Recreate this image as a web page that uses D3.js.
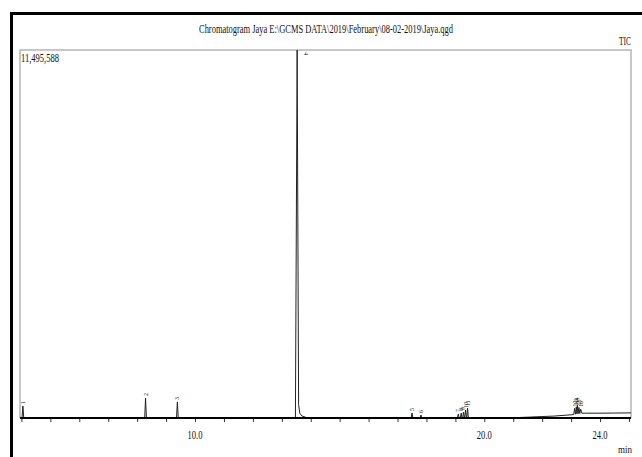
<!DOCTYPE html>
<html>
<head>
<meta charset="utf-8">
<script src="https://cdn.jsdelivr.net/npm/d3@7"></script>
<style>
  body { margin: 0; background: #fff; }
  svg text { font-family: "Liberation Serif", "DejaVu Serif", serif; fill: #111; }
</style>
</head>
<body>
<svg width="642" height="457"></svg>
<script>
// chromatogram trace (retention time in min, intensity)
const traceT = [3.95, 4.02, 4.05, 4.08, 8.26, 8.29, 8.32, 9.36, 9.39, 9.42,
  13.47, 13.53, 13.58, 13.62, 13.70, 13.85, 14.0,
  17.47, 17.50, 17.53, 17.78, 17.81, 17.84,
  19.07, 19.10, 19.13, 19.17, 19.20, 19.23, 19.25, 19.28, 19.31, 19.32, 19.35, 19.38, 19.39, 19.42, 19.45,
  20.8, 21.6, 22.4, 23.0,
  23.09, 23.12, 23.15, 23.18, 23.20, 23.22, 23.24, 23.27, 23.30, 23.33, 23.37,
  23.5, 24.0, 24.5, 25.07];
const traceI = [0, 0, 375000, 0, 0, 625000, 0, 0, 500000, 0,
  0, 11495588, 420000, 150000, 60000, 15000, 0,
  0, 156000, 0, 0, 94000, 0,
  0, 125000, 0, 0, 156000, 0, 0, 187000, 0, 0, 250000, 0, 0, 312000, 0,
  0, 30000, 60000, 100000,
  110000, 300000, 120000, 350000, 130000, 400000, 130000, 330000, 140000, 280000, 150000,
  150000, 150000, 155000, 160000];

// peak numbers
const peakT = [4.05, 8.29, 9.39, 13.53, 17.50, 17.81, 19.10, 19.20, 19.28, 19.35, 19.42,
  23.12, 23.18, 23.22, 23.27, 23.33];
const peakI = [375000, 625000, 500000, 11495588, 156000, 94000, 125000, 156000, 187000, 250000, 312000,
  300000, 350000, 400000, 330000, 280000];
const peakLabels = ["1", "2", "3", "4", "5", "6", "7", "8", "9", "10", "11",
  "12", "13", "14", "15", "16"];

// axis
const tickLabels = [10, 20, 24];
const minorTicks = d3.range(4, 26, 1);
const maxIntensity = 11495588;

const svg = d3.select("svg");

// page frame (left + top black rules)
svg.append("line").attr("x1", 11.5).attr("x2", 11.5).attr("y1", 12).attr("y2", 457)
  .attr("stroke", "#000").attr("stroke-width", 3);
svg.append("line").attr("x1", 10).attr("x2", 642).attr("y1", 13.5).attr("y2", 13.5)
  .attr("stroke", "#000").attr("stroke-width", 3);

const pLeft = 20, pRight = 631, pTop = 50, pBottom = 418;

const x = d3.scaleLinear().domain([3.95, 25.07]).range([pLeft, pRight]);
const y = d3.scaleLinear().domain([0, maxIntensity]).range([pBottom, pTop]);

// plot box (grey)
svg.append("path")
  .attr("d", `M${pLeft},${pBottom}V${pTop}H${pRight}V${pBottom}`)
  .attr("fill", "none").attr("stroke", "#b5b5b5").attr("stroke-width", 1.5);

// title
svg.append("text").attr("x", 326).attr("y", 33)
  .attr("text-anchor", "middle").attr("font-size", 12)
  .attr("textLength", 254).attr("lengthAdjust", "spacingAndGlyphs")
  .text("Chromatogram Jaya E:\\GCMS DATA\\2019\\February\\08-02-2019\\Jaya.qgd");

svg.append("text").attr("x", 21).attr("y", 62).attr("font-size", 12)
  .attr("textLength", 38).attr("lengthAdjust", "spacingAndGlyphs")
  .text(d3.format(",")(maxIntensity));

svg.append("text").attr("x", 631).attr("y", 45).attr("text-anchor", "end").attr("font-size", 12)
  .attr("textLength", 12).attr("lengthAdjust", "spacingAndGlyphs")
  .text("TIC");

// trace
const pts = traceT.map((t, i) => [t, traceI[i]]);
svg.append("path")
  .datum(pts)
  .attr("fill", "none")
  .attr("stroke", "#222")
  .attr("stroke-width", 1)
  .attr("d", d3.line().x(d => x(d[0])).y(d => y(d[1])));

// x axis
const axis = svg.append("g").attr("transform", `translate(0,${pBottom})`);
axis.call(d3.axisBottom(x).tickValues(minorTicks.filter(t => t <= 25)).tickSize(4).tickFormat(""));
axis.select(".domain").remove();
axis.selectAll(".tick line").attr("stroke", "#333");
axis.append("line").attr("x1", pLeft).attr("x2", pRight).attr("y1", 0).attr("y2", 0)
  .attr("stroke", "#000").attr("stroke-width", 2);

svg.selectAll(".ticklab").data(tickLabels).join("text")
  .attr("class", "ticklab")
  .attr("x", d => x(d)).attr("y", 439)
  .attr("text-anchor", "middle").attr("font-size", 12)
  .attr("textLength", 15).attr("lengthAdjust", "spacingAndGlyphs")
  .text(d => d3.format(".1f")(d));

svg.append("text").attr("x", 632).attr("y", 453).attr("text-anchor", "end").attr("font-size", 11)
  .attr("textLength", 14).attr("lengthAdjust", "spacingAndGlyphs")
  .text("min");

// peak numbers (rotated)
svg.selectAll(".plab").data(peakT).join("text")
  .attr("class", "plab")
  .attr("font-size", 6)
  .attr("transform", (d, i) => {
    let px = x(d), py = y(peakI[i]) - 2;
    if (py < pTop + 8) { px += 7; py = pTop + 2; return `translate(${px},${py}) rotate(90)`; }
    return `translate(${px + 2},${py}) rotate(-90)`;
  })
  .text((d, i) => peakLabels[i]);
</script>
</body>
</html>
